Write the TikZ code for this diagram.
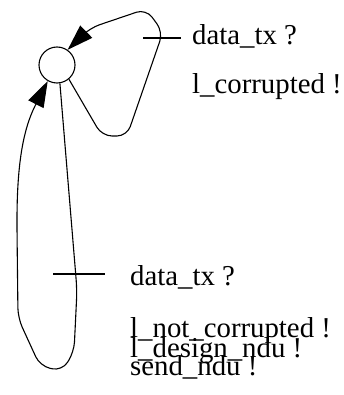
\documentclass[tikz,border=0pt]{standalone}
\usepackage{fontspec}
\setmainfont{Liberation Serif}
\usetikzlibrary{arrows.meta}
\tikzstyle{state} = [circle, draw, line width=1.1pt, minimum size=36pt, inner sep=0pt]
\tikzstyle{trans} = [line width=1.1pt, rounded corners=10pt, -{Triangle[length=26pt, width=17pt]}]
\tikzstyle{tick} = [line width=1.1pt]
\tikzstyle{lbl} = [anchor=base west, inner sep=0pt, font=\fontsize{28.8}{20}\selectfont]

\begin{document}
\begin{tikzpicture}[x=1pt, y=-1pt]
    \useasboundingbox (0,0) rectangle (344,395);
    \node[state] (q) at (57,65) {};
    % loop on corrupted frame
    \draw[trans] (q.-50) -- (102,136) -- (127,136) -- (163,32) -- (146,9) -- (90,28)
        [sharp corners] -- (q.55);
    \coordinate (ta1) at (143,38);
    \coordinate (ta2) at (181,38);
    \draw[tick] (ta1) -- (ta2);
    \node[lbl] (ina) at (192,45) {data\_tx ?};
    \node[lbl] (outa) at (192,94) {l\_corrupted !};
    % loop on good frame
    \draw[trans] (q.-81) -- (77,290) -- (74,352) -- (62,371) -- (40,366) -- (18,318) -- (17,230)
        [sharp corners] .. controls (17,165) and (23,130) .. (35,106) -- (q.-120);
    \coordinate (tb1) at (53,274);
    \coordinate (tb2) at (105,274);
    \draw[tick] (tb1) -- (tb2);
    \node[lbl] (inb) at (130,285) {data\_tx ?};
    \node[lbl] (outb1) at (130,337) {l\_not\_corrupted !};
    \node[lbl] (outb2) at (130,357) {l\_design\_ndu !};
    \node[lbl] (outb3) at (130,375) {send\_ndu !};
\end{tikzpicture}
\end{document}
